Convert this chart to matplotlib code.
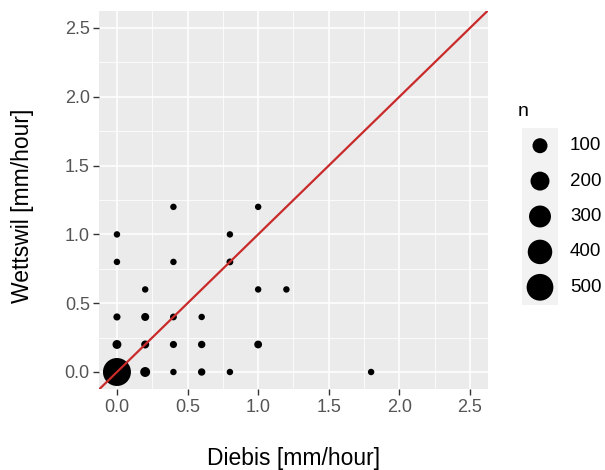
# Diebis vs Wettswil hourly rainfall, point size = number of hours (n)
import matplotlib
matplotlib.use("Agg")
import matplotlib.pyplot as plt
import numpy as np

plt.rcParams['font.family'] = ['Liberation Sans', 'DejaVu Sans']

# data
diebis = [0.0, 0.0, 0.0, 0.0, 0.0,
          0.2, 0.2, 0.2, 0.2,
          0.4, 0.4, 0.4, 0.4, 0.4,
          0.6, 0.6, 0.6,
          0.8, 0.8, 0.8,
          1.0, 1.0, 1.0,
          1.2, 1.8]
wettswil = [0.0, 0.2, 0.4, 0.8, 1.0,
            0.0, 0.2, 0.4, 0.6,
            0.0, 0.2, 0.4, 0.8, 1.2,
            0.0, 0.2, 0.4,
            0.0, 0.8, 1.0,
            0.2, 0.6, 1.2,
            0.6, 0.0]
n_hours = [560, 13, 3, 1, 1,
           22, 7, 7, 1,
           1, 3, 2, 1, 1,
           4, 4, 1,
           1, 2, 1,
           6, 1, 1,
           1, 1]
legend_breaks = [100, 200, 300, 400, 500]
ticks = [0.0, 0.5, 1.0, 1.5, 2.0, 2.5]
tick_labels = ['0.0', '0.5', '1.0', '1.5', '2.0', '2.5']


def marker_area(n):
    """diameter in px grows with sqrt(n), returned as scatter area in pt^2"""
    d_px = 5.5 + 0.95 * np.sqrt(np.asarray(n, dtype=float))
    return (d_px * 0.72) ** 2


W, H = 605, 470
fig = plt.figure(figsize=(W / 100, H / 100), dpi=100)
ax = fig.add_axes([99.3 / W, 1 - 389.2 / H, (487.6 - 99.3) / W, (389.2 - 10.8) / H])
ax.set_facecolor('#EBEBEB')

lims = (-0.125, 2.625)
ax.set_xlim(lims)
ax.set_ylim(lims)

# grid like ggplot theme_gray
ax.set_xticks(ticks)
ax.set_yticks(ticks)
ax.set_xticks(np.arange(0.25, 2.5, 0.5), minor=True)
ax.set_yticks(np.arange(0.25, 2.5, 0.5), minor=True)
ax.grid(which='major', color='white', linewidth=1.1)
ax.grid(which='minor', color='white', linewidth=0.55)
ax.set_axisbelow(True)
for s in ax.spines.values():
    s.set_visible(False)
ax.set_xticklabels(tick_labels)
ax.set_yticklabels(tick_labels)
ax.tick_params(which='major', length=4.5, width=1.0, color='#333333',
               labelcolor='#555555', labelsize=13, pad=2.3)
ax.tick_params(which='minor', length=0)

ax.scatter(diebis, wettswil, s=marker_area(n_hours), color='black', edgecolors='none', zorder=3)

# 1:1 line
ax.plot(lims, lims, color='#C92A2A', linewidth=1.6, zorder=4)

ax.set_xlabel('Diebis [mm/hour]', fontsize=16.5, va='center')
ax.set_ylabel('Wettswil [mm/hour]', fontsize=16.5, va='center')
ax.xaxis.set_label_coords(0.5, -0.182)
ax.yaxis.set_label_coords(-0.197, 0.485)

# size legend
lax = fig.add_axes([522 / W, 1 - 305 / H, 36 / W, 177 / H])
lax.set_facecolor('#F2F2F2')
lax.set_xlim(0, 1)
lax.set_ylim(len(legend_breaks), 0)
lax.set_xticks([])
lax.set_yticks([])
for s in lax.spines.values():
    s.set_visible(False)
key_y = np.arange(len(legend_breaks)) + 0.5
lax.scatter(np.full(len(legend_breaks), 0.5), key_y, s=marker_area(legend_breaks),
            color='black', edgecolors='none', clip_on=False)
for y, b in zip(key_y, legend_breaks):
    lax.text((570 - 522) / 36, y, str(b), fontsize=13.5, va='center', ha='left', color='black')
fig.text(518 / W, 1 - 111 / H, 'n', fontsize=14, va='center', ha='left')

fig.savefig('out.png', dpi=100)
